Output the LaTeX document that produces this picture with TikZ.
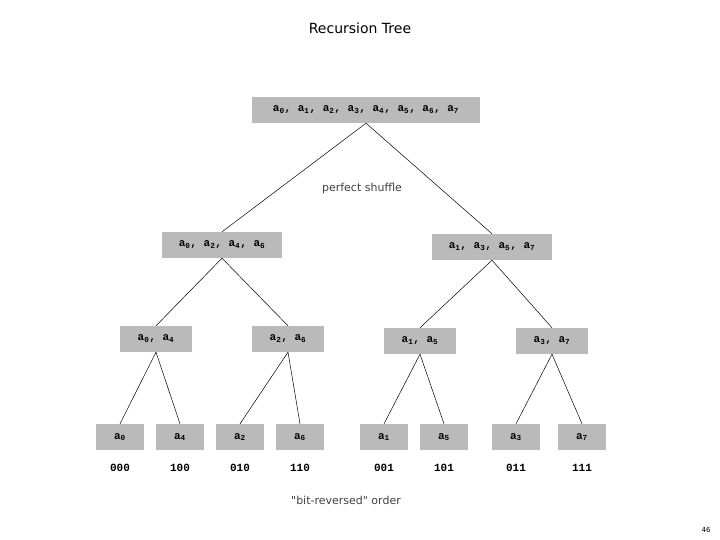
\documentclass[tikz,border=0pt]{standalone}
\usepackage{fontspec}
\setmainfont{DejaVu Sans}[Ligatures=TeXOff]
\newfontfamily\boxf{Liberation Mono}
\newcommand{\ai}[1]{a\textsubscript{#1}}
\begin{document}
\begin{tikzpicture}[x=1pt,y=-1pt,
  bx/.style={fill=black!27,minimum height=26pt,inner sep=0pt,font=\boxf\bfseries\fontsize{11}{12}\selectfont},
  bit/.style={font=\boxf\bfseries\fontsize{11}{12}\selectfont},
  lab/.style={font=\fontsize{11}{13}\selectfont,text=black!75},
  ln/.style={draw=black,line width=0.5pt}]
\useasboundingbox (0,0) rectangle (720,540);
\node[font=\fontsize{14}{16}\selectfont] (title) at (360,28) {Recursion Tree};
\node[bx,minimum width=228pt] (r) at (366,110) {\ai0, \ai1, \ai2, \ai3, \ai4, \ai5, \ai6, \ai7};
\node[lab] (ps) at (362,188) {perfect shuffle};
\node[bx,minimum width=120pt] (L) at (222,245) {\ai0, \ai2, \ai4, \ai6};
\node[bx,minimum width=120pt] (R) at (492,247) {\ai1, \ai3, \ai5, \ai7};
\node[bx,minimum width=72pt] (LL) at (156,339) {\ai0, \ai4};
\node[bx,minimum width=72pt] (LR) at (288,339) {\ai2, \ai6};
\node[bx,minimum width=72pt] (RL) at (420,341) {\ai1, \ai5};
\node[bx,minimum width=72pt] (RR) at (552,341) {\ai3, \ai7};
\foreach \n/\s/\x/\b in {l0/0/120/000,l4/4/180/100,l2/2/240/010,l6/6/300/110,l1/1/384/001,l5/5/444/101,l3/3/516/011,l7/7/582/111}{
  \node[bx,minimum width=48pt] (\n) at (\x,437) {\ai{\s}};
  \node[bit] (b\n) at (\x,468) {\b};
}
\node[lab] (br) at (346,500) {"bit-reversed" order};
\node[font=\fontsize{7}{8}\selectfont] (pg) at (706,530) {46};
\draw[ln] (r.south) -- (L.north);
\draw[ln] (r.south) -- (R.north);
\draw[ln] (L.south) -- (LL.north);
\draw[ln] (L.south) -- (LR.north);
\draw[ln] (R.south) -- (RL.north);
\draw[ln] (R.south) -- (RR.north);
\draw[ln] (LL.south) -- (l0.north); \draw[ln] (LL.south) -- (l4.north);
\draw[ln] (LR.south) -- (l2.north); \draw[ln] (LR.south) -- (l6.north);
\draw[ln] (RL.south) -- (l1.north); \draw[ln] (RL.south) -- (l5.north);
\draw[ln] (RR.south) -- (l3.north); \draw[ln] (RR.south) -- (l7.north);
\end{tikzpicture}
\end{document}
